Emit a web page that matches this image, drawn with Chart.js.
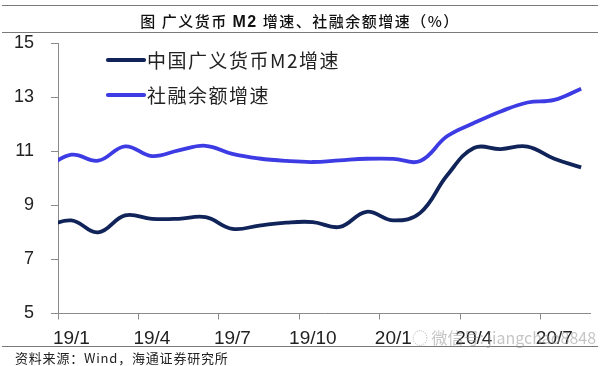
<!DOCTYPE html>
<html>
<head>
<meta charset="utf-8">
<script src="https://cdn.jsdelivr.net/npm/chart.js@4.4.1/dist/chart.umd.min.js"></script>
<style>
  html, body { margin: 0; padding: 0; background: #fff; }
  #wrap { position: relative; width: 600px; height: 366px; overflow: hidden; background: #fff; }
  #c { position: absolute; left: 0; top: 0; }
  .rule { position: absolute; left: 2px; width: 596px; height: 0; border-top: 1.5px solid #7a7a7a; }
  #title { position: absolute; left: 0; width: 600px; top: 10px; text-align: center;
           font: 500 15px "Noto Sans CJK SC", sans-serif; color: #111; letter-spacing: 1.5px; }
  #title b { font-family: "Liberation Sans", Arial, sans-serif; font-weight: bold; font-size: 16px; }
  #src { position: absolute; left: 15px; top: 348px; font: 13px "Noto Sans CJK SC", sans-serif; color: #222; letter-spacing: 0.8px; }
  #wm { position: absolute; left: 412px; top: 325px; font: 16px "Noto Sans CJK SC", sans-serif; color: rgba(150,150,150,0.55); }
</style>
</head>
<body>
<div id="wrap">
  <canvas id="c" width="600" height="366"></canvas>
  <div class="rule" style="top:5px"></div>
  <div id="title">图&nbsp;广义货币 <b>M2</b> 增速、社融余额增速（%）</div>
  <div class="rule" style="top:32px"></div>
  <div class="rule" style="top:346px"></div>
  <div id="src">资料来源：Wind，海通证券研究所</div>
  <div id="wm">◌ 微信号: jiangchao8848</div>
</div>
<script>
// months (18/12 lies just left of the axis and is clipped)
const months = ['18/12','19/1','19/2','19/3','19/4','19/5','19/6','19/7','19/8','19/9','19/10','19/11','19/12',
                '20/1','20/2','20/3','20/4','20/5','20/6','20/7','20/8'];
const m2Growth = [8.2, 8.44, 8.0, 8.63, 8.5, 8.5, 8.56, 8.13, 8.25, 8.36, 8.38, 8.2, 8.76,
                  8.44, 8.72, 10.1, 11.12, 11.08, 11.17, 10.72, 10.4];
const sfGrowth = [10.35, 10.87, 10.65, 11.18, 10.82, 11.03, 11.2, 10.9, 10.73, 10.64, 10.6, 10.66, 10.72,
                  10.72, 10.64, 11.55, 12.04, 12.47, 12.8, 12.9, 13.31];
const xTickLabels = ['19/1','19/4','19/7','19/10','20/1','20/4','20/7'];
const seriesNames = ['中国广义货币M2增速', '社融余额增速'];

const xOf = i => i - 1; // 19/1 -> 0
const toPts = arr => arr.map((v, i) => ({ x: xOf(i), y: v }));

const legendPlugin = {
  id: 'inLegend',
  afterDatasetsDraw(chart) {
    const ctx = chart.ctx;
    const ys = [60, 95];
    chart.data.datasets.forEach((ds, i) => {
      ctx.save();
      ctx.strokeStyle = ds.borderColor;
      ctx.lineWidth = 4.2;
      ctx.lineCap = 'round';
      ctx.beginPath();
      ctx.moveTo(108, ys[i]);
      ctx.lineTo(144, ys[i]);
      ctx.stroke();
      ctx.fillStyle = '#222';
      ctx.font = '19px "Noto Sans CJK SC", sans-serif';
      ctx.textBaseline = 'middle';
      if (ctx.letterSpacing !== undefined) ctx.letterSpacing = '1.5px';
      ctx.fillText(ds.label, 147, ys[i] + 1);
      ctx.restore();
    });
  }
};

new Chart(document.getElementById('c'), {
  type: 'line',
  data: {
    datasets: [
      { label: seriesNames[0], data: toPts(m2Growth), borderColor: '#112459', borderWidth: 3.8,
        pointRadius: 0, tension: 0.4, fill: false },
      { label: seriesNames[1], data: toPts(sfGrowth), borderColor: '#3d3be3', borderWidth: 3.8,
        pointRadius: 0, tension: 0.4, fill: false }
    ]
  },
  options: {
    responsive: false,
    animation: false,
    events: [],
    layout: { padding: { top: 43, right: 10, left: 0, bottom: 0 } },
    plugins: { legend: { display: false }, tooltip: { enabled: false }, title: { display: false } },
    scales: {
      x: {
        type: 'linear',
        min: -0.5,
        max: 19.33,
        afterBuildTicks: s => { s.ticks = xTickLabels.map((_, k) => ({ value: -0.5 + 3 * k })); },
        afterFit: s => { s.height = 52.5; },
        ticks: {
          autoSkip: false,
          maxRotation: 0,
          labelOffset: 13.4,
          padding: 8,
          color: '#222',
          font: { family: '"Liberation Sans", Arial, sans-serif', size: 19 },
          callback: (v, idx) => xTickLabels[idx]
        },
        grid: { drawOnChartArea: false, drawTicks: true, tickLength: 6, color: '#8a8a8a', lineWidth: 1 },
        border: { display: true, color: '#8a8a8a', width: 1 }
      },
      y: {
        min: 5,
        max: 15,
        afterFit: s => { s.width = 58; },
        ticks: {
          stepSize: 2,
          padding: 17,
          color: '#222',
          font: { family: '"Liberation Sans", Arial, sans-serif', size: 18 }
        },
        grid: { drawOnChartArea: false, drawTicks: true, tickLength: 7, color: '#8a8a8a', lineWidth: 1 },
        border: { display: true, color: '#8a8a8a', width: 1 }
      }
    }
  },
  plugins: [legendPlugin]
});
</script>
</body>
</html>
